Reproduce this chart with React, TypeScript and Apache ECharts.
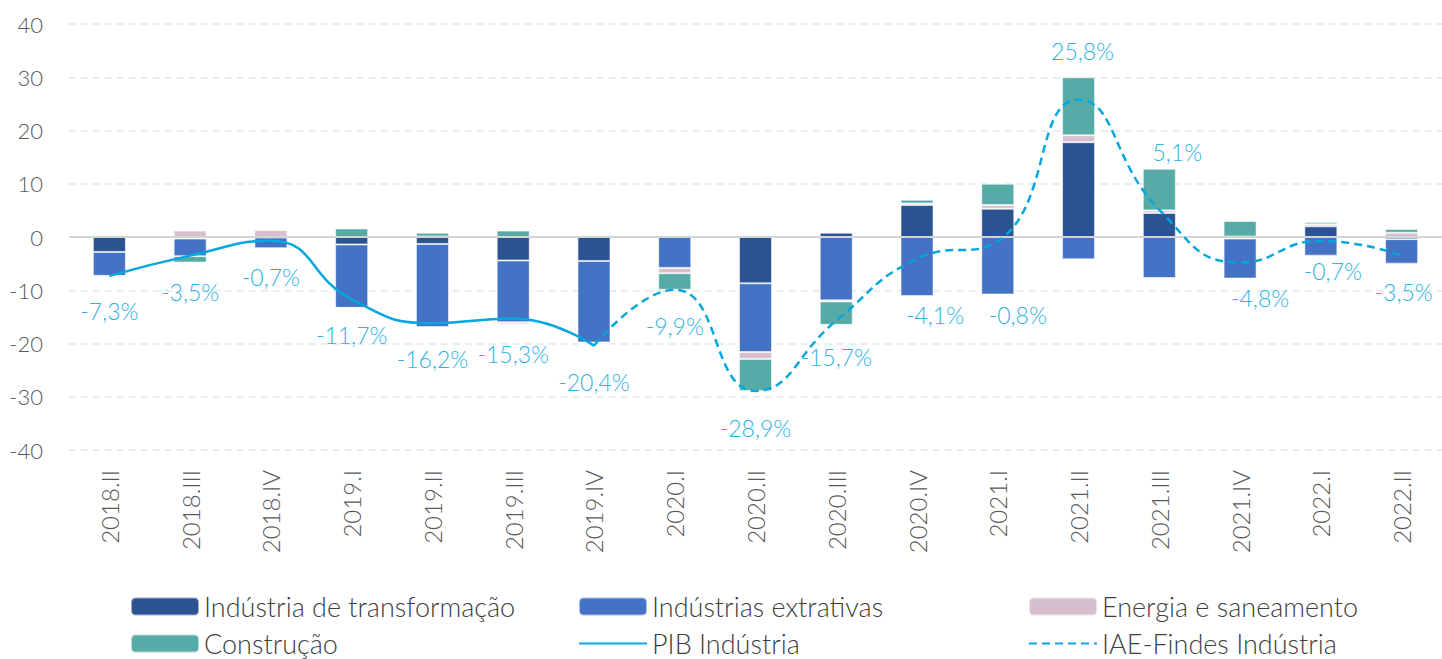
import React, { useEffect, useRef } from 'react';
import * as echarts from 'echarts';

const categories = ['2018.II', '2018.III', '2018.IV', '2019.I', '2019.II', '2019.III', '2019.IV', '2020.I', '2020.II', '2020.III', '2020.IV', '2021.I', '2021.II', '2021.III', '2021.IV', '2022.I', '2022.II'];
const transformacao = [-2.8, -0.3, -0.1, -1.4, -1.3, -4.4, -4.5, 0, -8.7, 0.8, 6.0, 5.3, 17.8, 4.5, -0.3, 2.0, -0.4];
const extrativas = [-4.5, -3.3, -2.0, -11.9, -15.6, -11.6, -15.3, -5.8, -12.9, -11.9, -11.1, -10.8, -4.2, -7.7, -7.5, -3.5, -4.6];
const energia = [0.3, 1.2, 1.3, 0, 0.1, -0.4, -0.3, -1.0, -1.3, -0.2, 0.3, 0.7, 1.3, 0.5, 0.1, 0.4, 0.8];
const construcao = [-0.2, -1.2, 0.2, 1.6, 0.7, 1.2, -0.2, -3.1, -6.0, -4.4, 0.7, 4.0, 10.9, 7.8, 2.9, 0.4, 0.7];
const pibIndustria = [-7.3, -3.5, -0.7, -11.7, -16.2, -15.3, -20.4, null, null, null, null, null, null, null, null, null, null];
const iaeFindes = [null, null, null, null, null, null, -20.4, -9.9, -28.9, -15.7, -4.1, -0.8, 25.8, 5.1, -4.8, -0.7, -3.5];
const yTicks = { min: -40, max: 40, interval: 10 };

// label placement (dx, dy) relative to the point, in px
const labelShift: [number, number][] = [
  [0, 35], [0, 36], [0, 36], [0, 36], [0, 36], [0, 36], [0, 36], [0, 36], [0, 37], [0, 36],
  [18, 56], [20, 74], [4, -49], [18, -58], [20, 35], [12, 30], [2, 36],
];

const FONT = "Lato, 'Open Sans', sans-serif";
const LINE_COLOR = '#06A7DF';
const LABEL_COLOR = '#2BB3E6';

const fmt = (v: number) => v.toFixed(1).replace('.', ',') + '%';

function lineData(values: (number | null)[], from: number, to: number) {
  return values.map((v, i) => {
    if (v === null) return null;
    const show = i >= from && i <= to;
    return {
      value: v,
      label: {
        show,
        position: 'inside',
        offset: labelShift[i],
        formatter: () => fmt(v),
        color: LABEL_COLOR,
        fontSize: 23,
        fontFamily: FONT,
        fontWeight: 300,
      },
    };
  });
}

export default function App() {
  const ref = useRef<HTMLDivElement>(null);
  useEffect(() => {
    if (!ref.current) return;
    const chart = echarts.init(ref.current, null, { renderer: 'svg' });
    const barCommon = {
      type: 'bar',
      stack: 'total',
      barWidth: 33,
      itemStyle: { borderColor: 'rgba(255,255,255,0.55)', borderWidth: 1 },
    };
    const legendText = { color: '#404040', fontSize: 27, fontFamily: FONT, fontWeight: 300 };
    const mkLegend = (name: string, left: number, top: number) => ({
      data: [name],
      left,
      top,
      padding: 0,
      itemWidth: 68,
      itemHeight: 18,
      itemGap: 0,
      textStyle: legendText,
      selectedMode: false,
    });
    chart.setOption({
      animation: false,
      textStyle: { fontFamily: FONT },
      grid: { left: 69, top: 24, width: 1385, height: 426 },
      legend: [
        mkLegend('Indústria de transformação', 130, 593),
        mkLegend('Indústrias extrativas', 578, 593),
        mkLegend('Energia e saneamento', 1028, 593),
        mkLegend('Construção', 130, 630),
        mkLegend('PIB Indústria', 578, 630),
        mkLegend('IAE-Findes Indústria', 1028, 630),
      ],
      xAxis: {
        type: 'category',
        data: categories,
        axisLine: { show: false },
        axisTick: { show: false },
        axisLabel: {
          rotate: 90,
          margin: 20,
          color: '#595959',
          fontSize: 24,
          fontFamily: FONT,
          fontWeight: 300,
        },
      },
      yAxis: {
        type: 'value',
        min: yTicks.min,
        max: yTicks.max,
        interval: yTicks.interval,
        axisLine: { show: false },
        axisTick: { show: false },
        axisLabel: { margin: 26, color: '#595959', fontSize: 22, fontFamily: FONT, fontWeight: 300 },
        splitLine: { lineStyle: { color: '#e6e6e6', width: 1.5, type: [7, 5] } },
      },
      series: [
        {
          ...barCommon,
          name: 'Indústria de transformação',
          data: transformacao,
          itemStyle: { ...barCommon.itemStyle, color: '#2B5291' },
          markLine: {
            silent: true,
            symbol: 'none',
            label: { show: false },
            lineStyle: { color: '#d4d4d4', width: 2, type: 'solid' },
            data: [{ yAxis: 0 }],
          },
        },
        { ...barCommon, name: 'Indústrias extrativas', data: extrativas, itemStyle: { ...barCommon.itemStyle, color: '#4472C4' } },
        { ...barCommon, name: 'Energia e saneamento', data: energia, itemStyle: { ...barCommon.itemStyle, color: '#D8BFCF' } },
        { ...barCommon, name: 'Construção', data: construcao, itemStyle: { ...barCommon.itemStyle, color: '#56ABA7' } },
        {
          type: 'line',
          name: 'PIB Indústria',
          data: lineData(pibIndustria, 0, 6),
          smooth: 0.5,
          symbol: 'circle',
          symbolSize: 1,
          itemStyle: { color: 'rgba(0,0,0,0)' },
          lineStyle: { color: LINE_COLOR, width: 2.5, type: 'solid' },
          z: 5,
        },
        {
          type: 'line',
          name: 'IAE-Findes Indústria',
          data: lineData(iaeFindes, 7, 16),
          smooth: 0.5,
          symbol: 'circle',
          symbolSize: 1,
          itemStyle: { color: 'rgba(0,0,0,0)' },
          lineStyle: { color: LINE_COLOR, width: 2.5, type: [8, 5] },
          z: 5,
        },
      ],
    });
    return () => chart.dispose();
  }, []);
  return <div ref={ref} style={{ position: 'absolute', left: 0, top: 0, width: 1442, height: 659, overflow: 'hidden' }} />;
}
